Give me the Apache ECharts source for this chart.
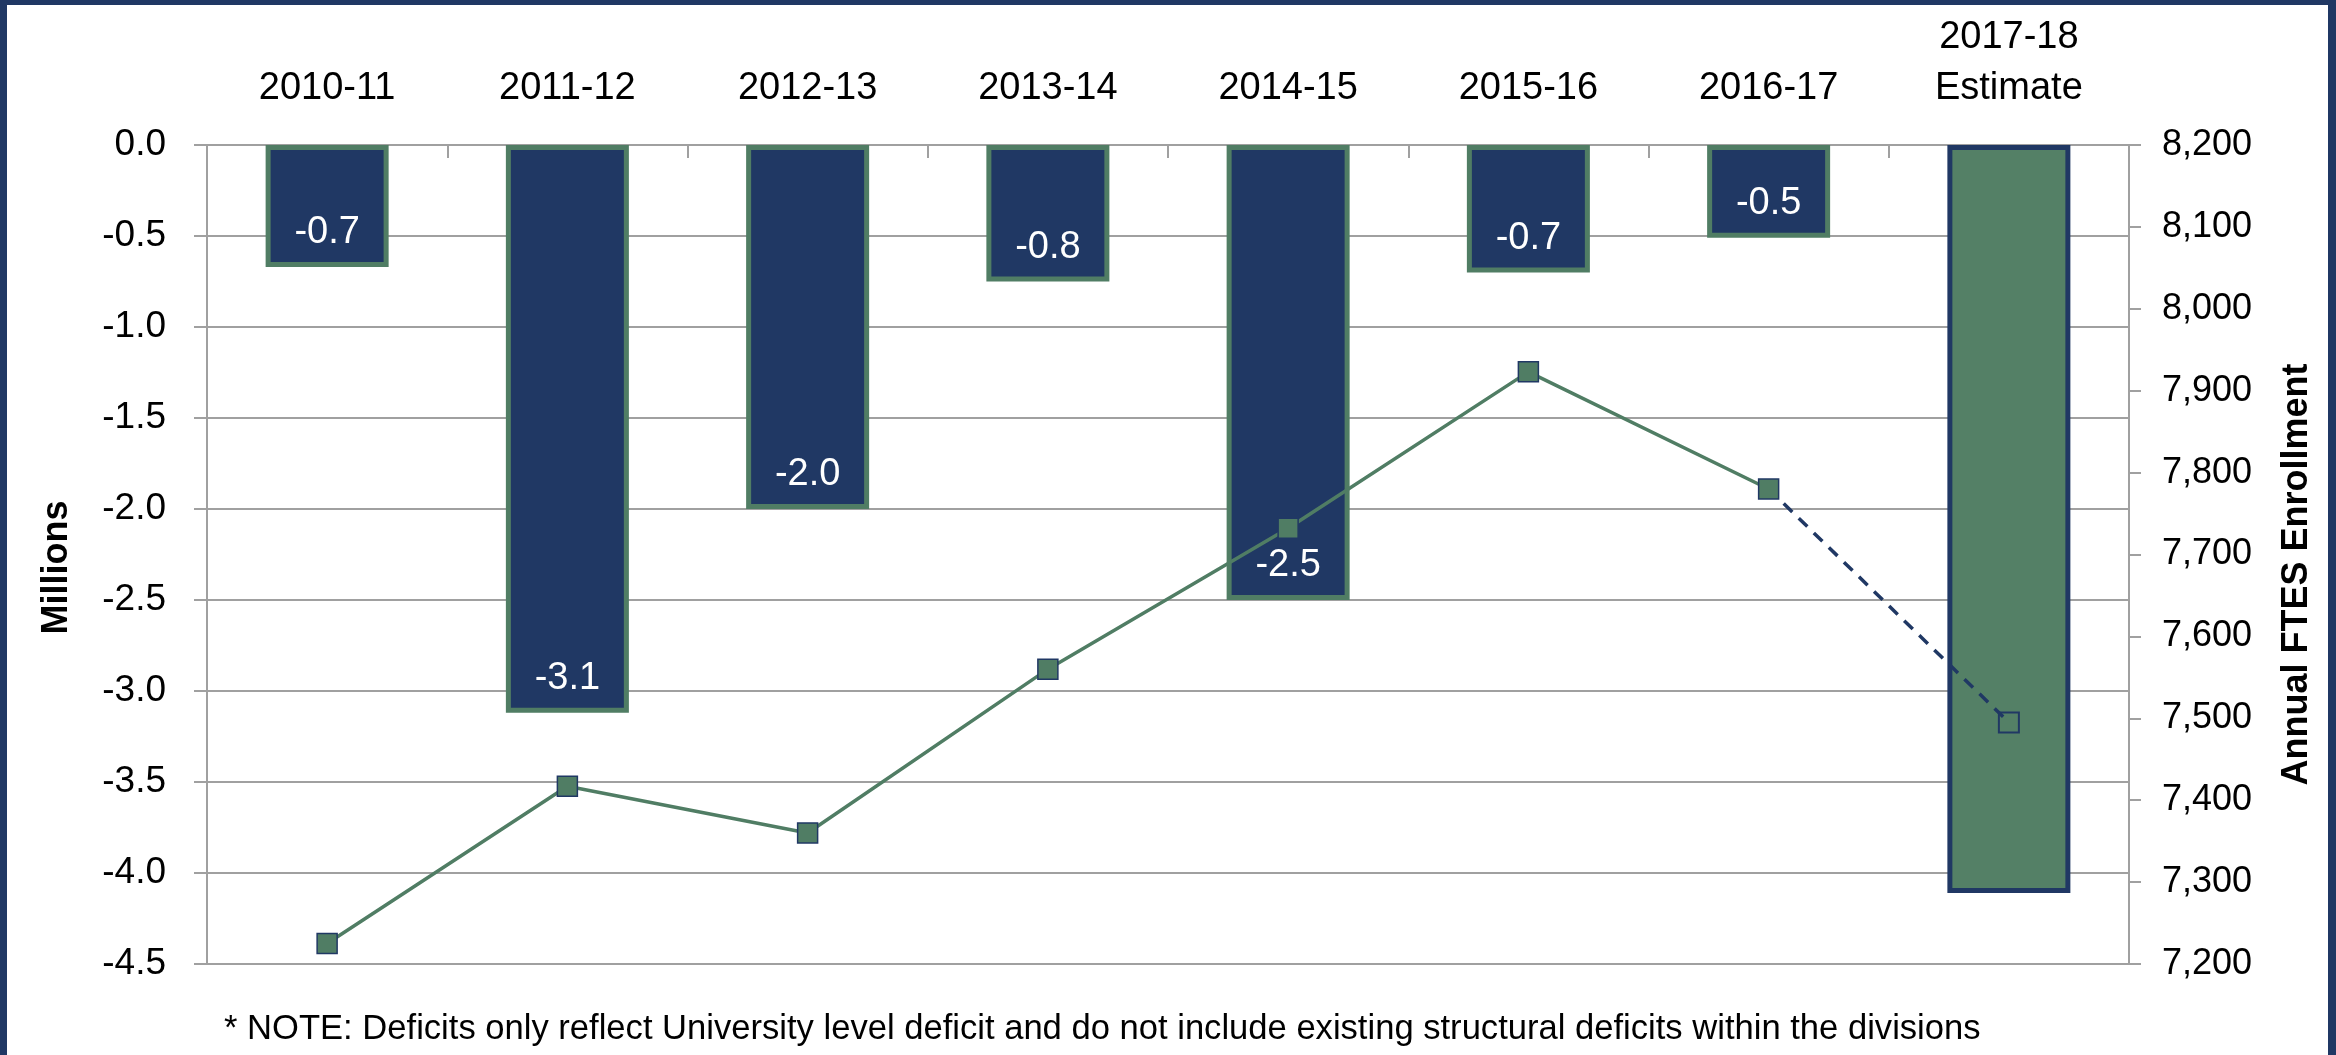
<!DOCTYPE html>
<html>
<head>
<meta charset="utf-8">
<script src="https://cdn.jsdelivr.net/npm/echarts@6/dist/echarts.min.js"></script>
<style>
  html, body { margin: 0; padding: 0; background: #fff; }
  #chart { width: 2336px; height: 1055px; }
  #frame {
    position: absolute; left: 0; top: 0; width: 2336px; height: 1055px;
    box-sizing: border-box; border-style: solid; border-color: #203864;
    border-width: 5px 8px 0 7px; pointer-events: none;
  }
</style>
</head>
<body>
<div id="chart"></div>
<div id="frame"></div>
<script>
// years shown on top axis
const years = ["2010-11", "2011-12", "2012-13", "2013-14", "2014-15", "2015-16", "2016-17", "2017-18\nEstimate"];
// university level deficit, millions
const deficit = [-0.67, -3.12, -2.0, -0.75, -2.5, -0.7, -0.51, -4.11];
// annual FTES enrollment (actuals)
const enrollment = [7225, 7417, 7360, 7560, 7732, 7923, 7780, "-"];
// estimate leg of the line
const enrollmentEst = ["-", "-", "-", "-", "-", "-", 7780, 7495];
const leftTicks = { min: -4.5, max: 0, step: 0.5 };
const rightTicks = { min: 7200, max: 8200, step: 100 };
const note = "* NOTE: Deficits only reflect University level deficit and do not include existing structural deficits within the divisions";

const navy = "#203864";
const green = "#548066";
const greenLine = "#507d64";
const grey = "#a0a0a0";
const font = "'Liberation Sans', sans-serif";

const chart = echarts.init(document.getElementById("chart"));

const option = {
  animation: false,
  textStyle: { fontFamily: font, color: "#000" },
  title: {
    text: note,
    left: 219,
    top: 1007,
    textStyle: { fontFamily: font, fontSize: 34.6, fontWeight: "normal", color: "#000" }
  },
  grid: { left: 207, right: 207, top: 145, bottom: 91 },
  xAxis: {
    type: "category",
    position: "top",
    data: years,
    axisLine: { show: true, lineStyle: { color: grey, width: 2 } },
    axisTick: { show: true, inside: true, length: 13, lineStyle: { color: grey, width: 2 } },
    axisLabel: { interval: 0, fontSize: 38, lineHeight: 51, margin: 31, color: "#000" },
    splitLine: { show: false }
  },
  yAxis: [
    {
      type: "value",
      name: "Millions",
      nameLocation: "middle",
      nameGap: 132,
      nameTextStyle: { fontSize: 36, fontWeight: "bold", color: "#000", padding: [0, 26, 0, 0] },
      min: leftTicks.min,
      max: leftTicks.max,
      interval: leftTicks.step,
      axisLine: { show: true, lineStyle: { color: grey, width: 2 } },
      axisTick: { show: true, length: 13, lineStyle: { color: grey, width: 2 } },
      axisLabel: { fontSize: 37, margin: 41, color: "#000", formatter: (v) => v.toFixed(1) },
      splitLine: { show: true, lineStyle: { color: grey, width: 2 } }
    },
    {
      type: "value",
      name: "Annual FTES Enrollment",
      nameLocation: "middle",
      nameGap: 150,
      nameTextStyle: { fontSize: 36, fontWeight: "bold", color: "#000", padding: [0, 40, 0, 0] },
      min: rightTicks.min,
      max: rightTicks.max,
      interval: rightTicks.step,
      axisLine: { show: true, lineStyle: { color: grey, width: 2 } },
      axisTick: { show: true, length: 12, lineStyle: { color: grey, width: 2 } },
      axisLabel: { fontSize: 36, margin: 33, color: "#000", formatter: (v) => v.toLocaleString("en-US") },
      splitLine: { show: false }
    }
  ],
  series: [
    {
      type: "bar",
      yAxisIndex: 0,
      barWidth: 123,
      data: deficit.map((v, i) => {
        if (i === deficit.length - 1) {
          return { value: v, itemStyle: { color: green, borderColor: navy }, label: { show: false } };
        }
        return v;
      }),
      itemStyle: { color: navy, borderColor: greenLine, borderWidth: 5 },
      label: {
        show: true,
        position: "insideBottom",
        distance: 15,
        fontSize: 38,
        color: "#fff",
        formatter: (p) => p.value.toFixed(1)
      },
      z: 2
    },
    {
      type: "line",
      yAxisIndex: 1,
      data: enrollment,
      symbol: "rect",
      symbolSize: 20,
      lineStyle: { color: greenLine, width: 3.5 },
      itemStyle: { color: greenLine, borderColor: navy, borderWidth: 1.5 },
      z: 4
    },
    {
      type: "line",
      yAxisIndex: 1,
      data: enrollmentEst.map((v, i) => {
        if (i === 6) return { value: v, symbol: "none" };
        return v;
      }),
      symbol: "rect",
      symbolSize: 20,
      lineStyle: { color: navy, width: 3.5, type: [12, 9] },
      itemStyle: { color: "rgba(0,0,0,0)", borderColor: navy, borderWidth: 2 },
      z: 3
    }
  ]
};

chart.setOption(option);
</script>
</body>
</html>
